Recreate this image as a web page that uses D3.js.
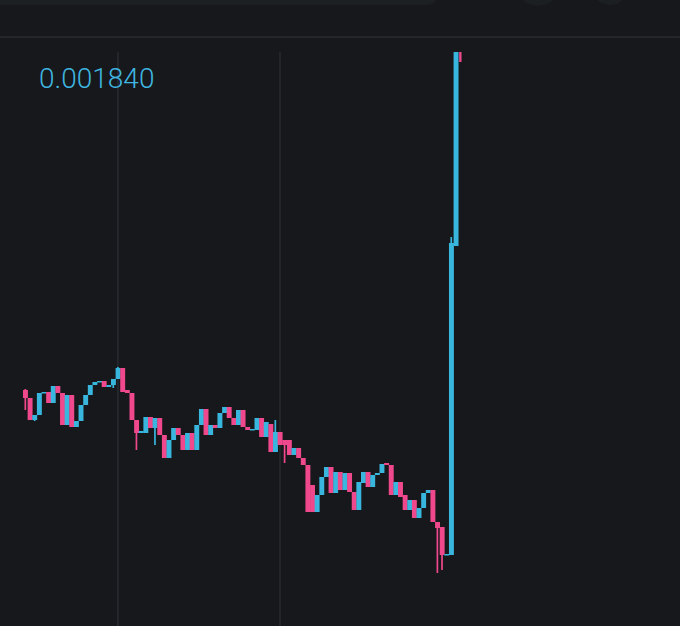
<!DOCTYPE html>
<html>
<head>
<meta charset="utf-8">
<script src="https://cdn.jsdelivr.net/npm/d3@7"></script>
<style>
  html, body { margin: 0; padding: 0; background: #16181b; }
  #chart { width: 680px; height: 626px; overflow: hidden; }
</style>
</head>
<body>
<div id="chart"></div>
<script>
// price values in units of 1e-6
var opens = [
    826, 802, 736, 751, 817, 820, 787, 838, 817, 721,
    811, 715, 733, 781, 811, 841, 850, 853, 835, 841,
    859, 892, 826, 817, 736, 697, 697, 745, 712, 742,
    691, 622, 676, 712, 691, 646, 697, 646, 721, 769,
    691, 721, 712, 757, 775, 742, 721, 766, 715, 706,
    706, 742, 685, 724, 640, 700, 676, 676, 631, 652,
    622, 601, 541, 460, 511, 565, 595, 517, 580, 526,
    577, 520, 466, 547, 580, 535, 571, 577, 607, 601,
    511, 550, 511, 466, 496, 442, 472, 517, 526, 430,
    415, 331, 331, 1258, 1840
];
var closes = [
    802, 736, 751, 817, 820, 787, 838, 817, 721, 811,
    715, 733, 781, 811, 841, 850, 853, 835, 841, 859,
    892, 820, 817, 736, 697, 703, 745, 712, 742, 691,
    622, 676, 712, 691, 646, 697, 646, 721, 769, 691,
    721, 712, 757, 775, 742, 721, 766, 715, 706, 709,
    742, 685, 730, 640, 700, 661, 661, 631, 652, 622,
    601, 460, 460, 511, 565, 595, 517, 580, 526, 577,
    520, 466, 550, 580, 535, 571, 577, 604, 601, 511,
    550, 505, 466, 496, 442, 472, 517, 526, 430, 412,
    331, 334, 1267, 1840, 1810
];
var highs = [
    829, 802, 751, 817, 820, 820, 838, 838, 817, 811,
    811, 733, 781, 811, 841, 850, 853, 853, 841, 859,
    895, 892, 826, 817, 736, 703, 745, 745, 742, 742,
    691, 676, 712, 712, 691, 697, 697, 721, 769, 769,
    721, 721, 757, 775, 775, 742, 766, 766, 715, 709,
    742, 742, 730, 724, 736, 700, 676, 676, 652, 652,
    622, 601, 541, 511, 565, 595, 595, 580, 580, 577,
    577, 520, 550, 580, 580, 571, 577, 604, 607, 601,
    550, 550, 511, 496, 496, 472, 517, 526, 526, 430,
    415, 334, 1285, 1840, 1840
];
var lows = [
    766, 736, 733, 751, 817, 787, 787, 817, 721, 721,
    715, 715, 733, 781, 811, 841, 850, 835, 835, 832,
    859, 820, 817, 736, 646, 697, 697, 712, 661, 691,
    622, 622, 676, 691, 646, 646, 646, 646, 721, 691,
    691, 712, 712, 757, 742, 721, 721, 715, 706, 706,
    706, 685, 685, 640, 640, 661, 607, 631, 631, 622,
    601, 460, 460, 460, 511, 565, 517, 517, 526, 526,
    520, 466, 466, 547, 535, 535, 571, 577, 601, 511,
    511, 505, 466, 466, 442, 442, 472, 517, 430, 277,
    286, 331, 331, 1258, 1810
];
var unit = 1e-6;
var gridCandles = [20, 55];

var w = 680;
var h = 626;
var upColor = "#38b6de";
var downColor = "#f0488c";
var gridColor = "#282b2f";

var data = opens.map(function(o, i) {
    return {
        i: i,
        open: o * unit,
        close: closes[i] * unit,
        high: highs[i] * unit,
        low: lows[i] * unit
    };
});

var svg = d3.select("#chart")
    .append("svg")
    .attr("width", w)
    .attr("height", h);

svg.append("rect")
    .attr("width", w)
    .attr("height", h)
    .attr("fill", "#16181b");

// top bar pieces (cut off app header)
svg.append("rect")
    .attr("x", -30)
    .attr("y", -30)
    .attr("width", 470)
    .attr("height", 35)
    .attr("rx", 14)
    .attr("fill", "#1d2023");
svg.append("circle")
    .attr("cx", 538).attr("cy", -16).attr("r", 22)
    .attr("fill", "#1c1f22");
svg.append("circle")
    .attr("cx", 610).attr("cy", -14).attr("r", 19)
    .attr("fill", "#1c1f22");

svg.append("line")
    .attr("x1", 0).attr("x2", w)
    .attr("y1", 37).attr("y2", 37)
    .attr("stroke", "#2a2d31")
    .attr("stroke-width", 1.5);

var xScale = d3.scaleBand()
    .domain(data.map(function(d) { return d.i; }))
    .range([23, 23 + data.length * 4.63])
    .padding(0);

var yScale = d3.scaleLinear()
    .domain([d3.min(data, function(d) { return d.low; }), d3.max(data, function(d) { return d.high; })])
    .range([573, 52]);

// vertical time grid lines
svg.selectAll(".grid")
    .data(gridCandles)
    .enter()
    .append("line")
    .attr("class", "grid")
    .attr("x1", function(d) { return xScale(d) + xScale.bandwidth() / 2; })
    .attr("x2", function(d) { return xScale(d) + xScale.bandwidth() / 2; })
    .attr("y1", 52)
    .attr("y2", h)
    .attr("stroke", gridColor)
    .attr("stroke-width", 1.5);

function color(d) { return d.close >= d.open ? upColor : downColor; }

// wicks
svg.selectAll(".wick")
    .data(data)
    .enter()
    .append("line")
    .attr("class", "wick")
    .attr("x1", function(d) { return xScale(d.i) + xScale.bandwidth() / 2; })
    .attr("x2", function(d) { return xScale(d.i) + xScale.bandwidth() / 2; })
    .attr("y1", function(d) { return yScale(d.high); })
    .attr("y2", function(d) { return yScale(d.low); })
    .attr("stroke", color)
    .attr("stroke-width", 1.7);

// bodies (last, still-forming candle drawn narrow)
svg.selectAll(".body")
    .data(data)
    .enter()
    .append("rect")
    .attr("class", "body")
    .attr("x", function(d, i) { return i === data.length - 1 ? xScale(d.i) + 1 : xScale(d.i); })
    .attr("width", function(d, i) { return i === data.length - 1 ? 2 : xScale.bandwidth() + 0.3; })
    .attr("y", function(d) { return yScale(Math.max(d.open, d.close)); })
    .attr("height", function(d) {
        return Math.max(1.5, Math.abs(yScale(d.open) - yScale(d.close)));
    })
    .attr("fill", color);

// max price label
svg.append("text")
    .attr("x", 39)
    .attr("y", 88)
    .attr("fill", "#3fb6e0")
    .style("font-family", "Roboto, 'Open Sans', sans-serif")
    .style("font-weight", 300)
    .style("font-size", "28px")
    .text(d3.format(".6f")(d3.max(data, function(d) { return d.high; })));
</script>
</body>
</html>
